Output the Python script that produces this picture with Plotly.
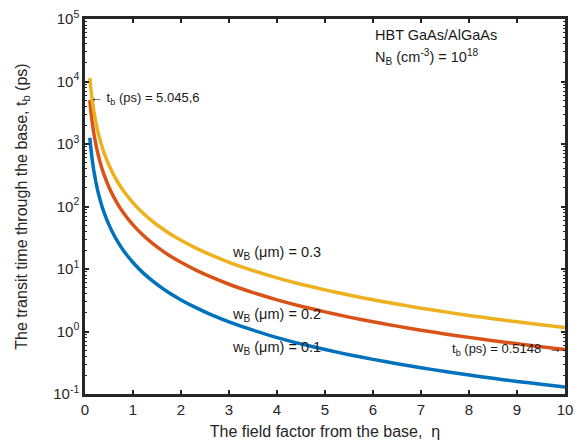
import plotly.graph_objects as go

eta = [0.1, 0.12, 0.15, 0.18, 0.22, 0.26, 0.3, 0.35, 0.4, 0.5, 0.6, 0.7, 0.8, 0.9, 1.0,
       1.2, 1.4, 1.6, 1.8, 2.0, 2.3, 2.6, 3.0, 3.5, 4.0, 4.5, 5, 5.5, 6, 6.5, 7, 7.5,
       8, 8.5, 9, 9.5, 10]
tb_w03 = [11350, 7900, 5060, 3515, 2355, 1685, 1267, 930, 713, 457, 317, 233, 178, 141, 114,
          79.4, 58.5, 44.8, 35.3, 28.8, 21.8, 17.1, 12.8, 9.45, 7.22, 5.71, 4.64, 3.83, 3.22,
          2.75, 2.36, 2.06, 1.81, 1.60, 1.43, 1.28, 1.16]
tb_w02 = [5045.6, 3510, 2250, 1562, 1046, 749, 563, 413, 317, 203, 141, 103.5, 79.3, 62.7, 50.8,
          35.3, 26.0, 19.9, 15.7, 12.8, 9.7, 7.6, 5.7, 4.2, 3.21, 2.54, 2.06, 1.70, 1.43,
          1.22, 1.05, 0.915, 0.805, 0.713, 0.636, 0.571, 0.5148]
tb_w01 = [1261, 878, 563, 391, 262, 187, 141, 103, 79.3, 50.8, 35.3, 25.9, 19.8, 15.7, 12.7,
          8.83, 6.5, 4.98, 3.93, 3.2, 2.43, 1.9, 1.43, 1.05, 0.80, 0.635, 0.515, 0.425, 0.358,
          0.305, 0.263, 0.229, 0.201, 0.178, 0.159, 0.143, 0.129]

series = [
    ("w=0.1", tb_w01, "#0072BD"),
    ("w=0.2", tb_w02, "#D95319"),
    ("w=0.3", tb_w03, "#EDB120"),
]

ytickvals = [0.1, 1, 10, 100, 1000, 10000, 100000]
yticktext = ["10<sup>-1</sup>", "10<sup>0</sup>", "10<sup>1</sup>", "10<sup>2</sup>",
             "10<sup>3</sup>", "10<sup>4</sup>", "10<sup>5</sup>"]
xtickvals = list(range(0, 11))

FONT = "Liberation Sans, Arial, Helvetica, sans-serif"
AX = "#262626"

fig = go.Figure()
for name, ys, col in series:
    fig.add_trace(go.Scatter(x=eta, y=ys, mode="lines", name=name,
                             line=dict(color=col, width=3.5, shape="spline", smoothing=0.5),
                             showlegend=False))

fig.update_layout(
    width=575, height=441,
    margin=dict(l=85, r=10, t=19, b=47),
    paper_bgcolor="white", plot_bgcolor="white",
    font=dict(family=FONT, size=15, color="#262626"),
    xaxis=dict(range=[0, 10], tickvals=xtickvals, ticks="inside", ticklen=4, tickwidth=2,
               tickcolor=AX, showline=True, linecolor=AX, linewidth=2.5, mirror="allticks",
               showgrid=False, zeroline=False, automargin=False,
               title=dict(text="The field factor from the base,  η", font=dict(size=16), standoff=10),
               tickfont=dict(size=15)),
    yaxis=dict(type="log", range=[-1, 5], tickvals=ytickvals, ticktext=yticktext,
               ticks="inside", ticklen=4, tickwidth=2, tickcolor=AX,
               showline=True, linecolor=AX, linewidth=2.5, mirror="allticks",
               showgrid=False, zeroline=False, automargin=False,
               minor=dict(ticks="inside", ticklen=2, tickwidth=1, tickcolor=AX, dtick="D1", showgrid=False),
               title=dict(text="The transit time through the base, t<sub>b</sub> (ps)", font=dict(size=16), standoff=22),
               tickfont=dict(size=15)),
)

# annotation anchors in data units (x) and log10 units (y)
ann = [
    dict(x=6.0, y=4.744, text="HBT GaAs/AlGaAs", size=14.5),
    dict(x=6.0, y=4.40, text="N<sub>B</sub> (cm<sup>-3</sup>) = 10<sup>18</sup>", size=14.5),
    dict(x=0.06, y=3.73, text="← t<sub>b</sub> (ps) = 5.045,6", size=13),
    dict(x=7.61, y=-0.29, text="t<sub>b</sub> (ps) = 0.5148  →", size=13),
    dict(x=3.02, y=1.26, text="w<sub>B</sub> (μm) = 0.3", size=14.5),
    dict(x=3.02, y=0.26, text="w<sub>B</sub> (μm) = 0.2", size=14.5),
    dict(x=3.02, y=-0.26, text="w<sub>B</sub> (μm) = 0.1", size=14.5),
]
for a in ann:
    fig.add_annotation(x=a["x"], y=a["y"], xref="x", yref="y",
                       text=a["text"], showarrow=False, xanchor="left", yanchor="middle",
                       font=dict(family=FONT, size=a["size"], color="#1a1a1a"))

fig.write_html("out.html")
